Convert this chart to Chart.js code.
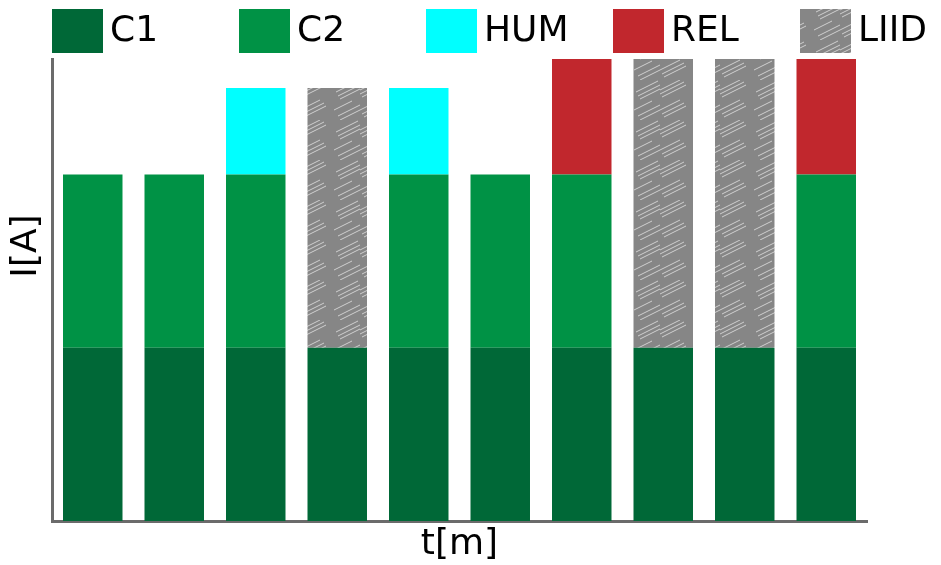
<!DOCTYPE html>
<html>
<head>
<meta charset="utf-8">
<script src="https://cdn.jsdelivr.net/npm/chart.js@4/dist/chart.umd.min.js"></script>
<style>
  html, body { margin: 0; padding: 0; background: #ffffff; }
  #wrap { width: 941px; height: 565px; position: relative; }
</style>
</head>
<body>
<div id="wrap"><canvas id="c" width="941" height="565"></canvas></div>
<script>
// ---- data ----
const categories = ['1', '2', '3', '4', '5', '6', '7', '8', '9', '10'];
const seriesNames = ['C1', 'C2', 'HUM', 'REL', 'LIID'];
const c1Values   = [3, 3, 3, 3, 3, 3, 3, 3, 3, 3];
const c2Values   = [3, 3, 3, 0, 3, 3, 3, 0, 0, 3];
const humValues  = [0, 0, 1.5, 0, 1.5, 0, 0, 0, 0, 0];
const relValues  = [0, 0, 0, 0, 0, 0, 2, 0, 0, 2];
const liidValues = [0, 0, 0, 4.5, 0, 0, 0, 5, 5, 0];
const xTitle = 't[m]';
const yTitle = 'I[A]';

// ---- hatch pattern for LIID ----
function makeHatch() {
  const p = document.createElement('canvas');
  p.width = 60; p.height = 40;
  const g = p.getContext('2d');
  g.fillStyle = '#868686';
  g.fillRect(0, 0, p.width, p.height);
  g.strokeStyle = 'rgba(225,225,225,0.8)';
  g.lineWidth = 1;
  const segs = [
    [0, 10, 20, 0], [0, 14, 24, 2], [2, 17, 26, 5], [36, 12, 58, 1],
    [38, 16, 60, 5], [40, 19, 60, 9], [0, 30, 20, 20], [2, 34, 24, 23],
    [4, 37, 26, 26], [38, 36, 60, 25], [40, 40, 60, 30], [34, 30, 52, 21]
  ];
  segs.forEach(s => {
    g.beginPath(); g.moveTo(s[0], s[1]); g.lineTo(s[2], s[3]); g.stroke();
  });
  return g.createPattern(p, 'repeat');
}
const ctx = document.getElementById('c').getContext('2d');
const hatch = makeHatch();

const colors = ['#006837', '#009245', '#00ffff', '#c1272d', hatch];
const valueSets = [c1Values, c2Values, humValues, relValues, liidValues];

const datasets = seriesNames.map((n, i) => ({
  label: n,
  data: valueSets[i],
  backgroundColor: colors[i],
  borderWidth: 0,
  barPercentage: 0.73,
  categoryPercentage: 1.0,
  stack: 's'
}));

const FONT = '"DejaVu Sans", Verdana, sans-serif';

const customDecor = {
  id: 'customDecor',
  afterDraw(chart) {
    const c = chart.ctx;
    const a = chart.chartArea;
    c.save();
    // legend
    const startX = 52, step = 187, boxW = 51, boxH = 44, boxY = 9;
    c.font = '36px ' + FONT;
    c.textBaseline = 'middle';
    c.textAlign = 'left';
    chart.data.datasets.forEach((ds, i) => {
      const x = startX + i * step;
      c.fillStyle = ds.backgroundColor;
      c.fillRect(x, boxY, boxW, boxH);
      c.fillStyle = '#000000';
      c.fillText(ds.label, x + boxW + 7, boxY + boxH / 2 + 1);
    });
    // x title
    c.textAlign = 'center';
    c.fillText(xTitle, (a.left + a.right) / 2, 545);
    // y title
    c.translate(27, 246);
    c.rotate(-Math.PI / 2);
    c.fillText(yTitle, 0, 0);
    c.restore();
  }
};

new Chart(ctx, {
  type: 'bar',
  data: { labels: categories, datasets },
  options: {
    responsive: false,
    animation: false,
    layout: { padding: { left: 52, right: 74, top: 59, bottom: 44 } },
    plugins: { legend: { display: false }, tooltip: { enabled: false } },
    scales: {
      x: {
        stacked: true,
        grid: { display: false, drawTicks: false },
        ticks: { display: false },
        border: { display: true, color: '#6b6b6b', width: 3 }
      },
      y: {
        stacked: true,
        min: 0, max: 8,
        grid: { display: false, drawTicks: false },
        ticks: { display: false },
        border: { display: true, color: '#6b6b6b', width: 3 }
      }
    }
  },
  plugins: [customDecor]
});
</script>
</body>
</html>
